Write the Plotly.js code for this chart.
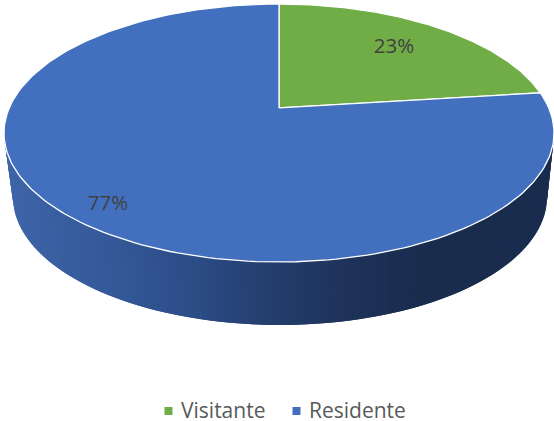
<!DOCTYPE html>
<html><head><meta charset="utf-8">
<script src="https://cdn.plot.ly/plotly-3.0.1.min.js"></script>
<style>html,body{margin:0;padding:0;background:#fff}#c{width:554px;height:421px}</style>
</head><body><div id="c"></div>
<script>
var categories = ["Visitante", "Residente"];
var values = [23, 77];
var sliceColors = ["#70ad47", "#4270bf"];
var labelColor = "#404040";
var legendColor = "#595959";
var wallX = [0, 100, 200, 270, 350, 420, 554];
var wallR = [62, 54, 44, 36, 30, 26, 26];
var wallG = [102, 90, 76, 62, 50, 44, 44];
var wallB = [170, 155, 134, 110, 90, 78, 78];

var total = values.reduce(function(a,b){return a+b;},0);
var k = -0.194, s = Math.sqrt(1-k*k);
function proj(t, E){           // t: clockwise from top, circle seen in perspective
  var u = Math.sin(t), v = -Math.cos(t), d = 1 + k*v;
  return [E[0] + E[2]*u*s/d, E[1] + E[3]*(v+k)/d];
}
var topE = [279, 133, 275, 129], botE = [280, 197, 267, 128];
function wallColor(x){
  var i = 1;
  while (i < wallX.length-1 && x > wallX[i]) i++;
  var g = Math.max(0, Math.min(1, (x-wallX[i-1])/(wallX[i]-wallX[i-1])));
  function m(c){ return Math.round(c[i-1]+(c[i]-c[i-1])*g); }
  return "rgb("+m(wallR)+","+m(wallG)+","+m(wallB)+")";
}
var traces = [];
// side wall strips, overlapping so no seams show
var N = 140, t0 = Math.PI*0.46, t1 = Math.PI*1.54;
for (var i=0;i<N;i++){
  var a = t0+(t1-t0)*i/N, b = t0+(t1-t0)*Math.min(N,i+2)/N;
  var p1=proj(a,topE), p2=proj(b,topE), q1=proj(a,botE), q2=proj(b,botE);
  var col = wallColor((p1[0]+q1[0])/2);
  traces.push({type:"scatter",mode:"none",x:[p1[0],p2[0],q2[0],q1[0],p1[0]],y:[p1[1],p2[1],q2[1],q1[1],p1[1]],
    fill:"toself",fillcolor:col,showlegend:false,hoverinfo:"skip"});
}
// top face slices
var start = 0;
values.forEach(function(val,idx){
  var end = start + val/total*2*Math.PI, xs=[], ys=[];
  xs.push(topE[0]); ys.push(topE[1]+topE[3]*k);
  for (var j=0;j<=200;j++){
    var p = proj(start+(end-start)*j/200,topE);
    xs.push(p[0]); ys.push(p[1]);
  }
  xs.push(topE[0]); ys.push(topE[1]+topE[3]*k);
  traces.push({type:"scatter",mode:"lines",x:xs,y:ys,fill:"toself",fillcolor:sliceColors[idx],
    line:{color:"#ffffff",width:1.3},showlegend:false,hoverinfo:"skip"});
  start = end;
});
// percent labels
traces.push({type:"scatter",mode:"text",x:[394,108],y:[47.5,204.5],
  text:values.map(function(v){return Math.round(v/total*100)+"%";}),
  textfont:{family:"Open Sans, sans-serif",size:20.5,color:labelColor},textposition:"middle center",
  showlegend:false,hoverinfo:"skip"});
// legend keys and names
categories.forEach(function(n,idx){
  traces.push({type:"scatter",mode:"markers",x:[[168.5,296.5][idx]],y:[411],name:n,
    marker:{symbol:"square",size:8,color:sliceColors[idx]},showlegend:false,hoverinfo:"skip"});
  traces.push({type:"scatter",mode:"text",x:[[181,309][idx]],y:[413],text:[n],textposition:"middle right",cliponaxis:false,
    textfont:{family:"Open Sans, sans-serif",size:21,color:legendColor},showlegend:false,hoverinfo:"skip"});
});
Plotly.newPlot("c",traces,{
  width:554,height:421,margin:{l:0,r:0,t:0,b:0},paper_bgcolor:"#fff",plot_bgcolor:"#fff",
  xaxis:{range:[0,554],visible:false,fixedrange:true},
  yaxis:{range:[421,0],visible:false,fixedrange:true},
  showlegend:false
},{displayModeBar:false,staticPlot:true});
</script></body></html>
